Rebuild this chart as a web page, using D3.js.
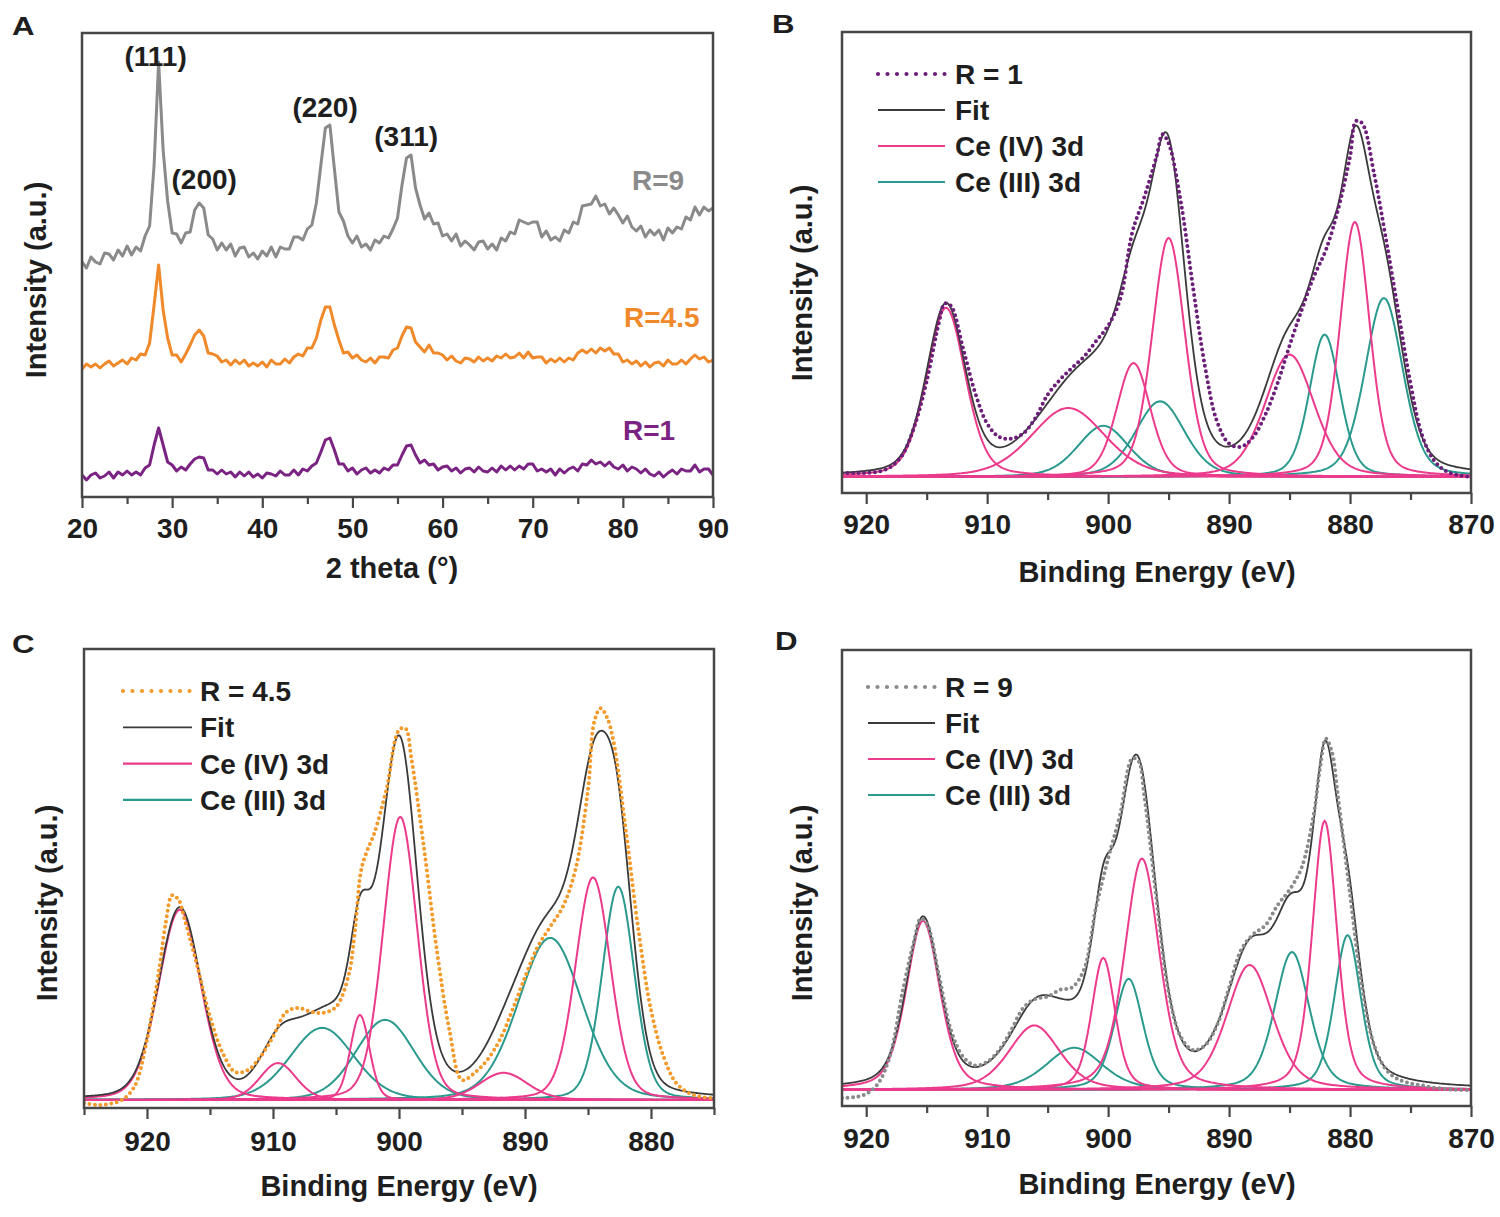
<!DOCTYPE html>
<html><head><meta charset="utf-8">
<script src="https://cdn.jsdelivr.net/npm/d3@7"></script>
<style>body{margin:0;background:#fff}</style>
</head><body>
<svg id="chart" width="1500" height="1217" xmlns="http://www.w3.org/2000/svg"></svg>
<script>
// ---------------- DATA ----------------
// Panel A : XRD, 2theta from 20 to 90 deg, sampled every 0.5 deg (intensity, a.u.)
const xrdStart = 20, xrdStep = 0.5;
const xrdR9 = [117.5,114.5,120,117.5,116.5,122,121.5,118.5,123.5,120.5,125.5,121,125,123,130.5,135.5,166,217.5,173.5,148,132,131.5,127,132,132.5,143.5,147,144.5,131,129,123.5,127,123.5,126.5,120.5,124.5,125,120,122,119,123,120.5,125,120,125,124,124,130,130,128.5,134,136,147,166,184.5,186,164,142.5,138,130.5,127,130.5,125,126.5,123.5,128.5,127,130.5,129.5,134,139.5,156,169.5,171,154.5,146,139,142,136.5,137,130.5,131.5,128,131.5,125.5,128,126,123.5,127.5,128,124,126.5,123.5,129.5,128,132.5,131.5,138.5,137.5,136.5,137.5,137.5,130,133,128.5,130,128,133.5,132,137.5,136.5,145.5,146,146.5,150.5,145.5,146.5,141.5,144.5,141,137,140.5,135,133,135.5,130,133.5,131,133.5,128.5,134.5,132,135,134,140,138.5,145,141,145,143,144.5];
const xrdR45 = [64,66.5,65,66.5,64.5,66.5,68,65.5,67,68.5,66.5,69.5,68.5,71.5,71,77,96,116,93.5,79.5,71,71,67.5,71.5,76,81,83.5,80.5,72,71.5,70.5,67.5,68.5,66,68.5,66.5,68.5,65.5,67,65.5,67.5,65,68.5,66.5,66.5,69,67,70,71.5,70.5,74.5,74.5,79.5,88.5,95,95,86,78.5,72,72.5,69.5,71,68.5,67.5,69.5,67,70,70,69.5,73.5,74.5,80.5,85,84.5,77.5,75,72.5,76,72,72,71,68.5,70.5,68,67,69.5,69,67.5,70,68,69.5,68,70.5,69.5,71.5,69.5,70,72,69.5,72.5,69.5,70,70,67,69,67.5,69.5,67.5,69.5,68.5,72,73.5,72,74,72,74.5,73,74.5,71.5,71.5,67.5,68.5,66.5,68,65.5,67.5,65,67,67.5,65.5,68.5,66.5,66.5,68.5,66.5,69,71,69,70,67.5,68.5];
const xrdR1 = [11,8.5,11,12,9.5,10.5,12.5,9.5,12.5,11,13,11,12.5,11,14.5,16,26,34.5,26,17.5,16,13,15,13.5,16.5,19,20,19.5,13.5,13.5,11.5,13.5,11.5,12.5,10,12.5,10.5,12.5,10,11.5,9.5,12,11.5,10.5,13,11,11,13.5,11,14,13,15.5,17,22.5,28.5,29.5,23.5,16.5,16.5,13,14.5,11.5,13.5,14.5,12,13.5,12,14.5,13.5,16,16,21,25.5,26,21,17,18.5,16,16.5,13.5,15,15.5,13,14.5,12,14,14.5,12.5,15,13,12.5,14.5,12.5,15.5,13.5,15.5,13.5,15.5,14,16.5,16.5,13,14,12.5,14,11,14,12,14,15,13,16.5,16,18.5,16.5,17.5,15.5,17.5,15,14,16,13,15,14,12,14,11.5,10.5,12.5,10,12,13.5,11.5,14,13,13,16,12.5,14,14,11];
const xrdNames = ["R=9", "R=4.5", "R=1"];
const peakLabels = ["(111)", "(200)", "(220)", "(311)"];
const peakPos = [28.5, 33.0, 47.3, 56.3];
const xrdTicks = [20,30,40,50,60,70,80,90];

// Panel B : XPS Ce 3d, R = 1  (binding energy eV, intensity a.u.)
const bE = [922,921,920,919,918,917,916,915,914,913.5,913,912,911,910,909,908,907,906,905,904,903,902,901,900,899,898,897,896,895.5,895,894,893,892,891,890,889,888,887,886,885,884,883,882,881,880,879.5,879,878,877,876,875,874,873,872,871,870];
const bI = [0.9,0.9,0.9,1.2,2.2,5,11.5,21.5,34.5,39,38.5,29,19,12,9,8.6,9.8,13.3,18.5,21.8,24.5,27,30.5,34,40,55,63,72,77,75,62,43,25,12.5,7.5,6.8,9,14,21,29.5,37.5,45,51,60,72,80,79.5,68,53,37,21,9,3.5,1.2,0.4,0];
const bCe4Pos = [913.4, 903.3, 897.9, 895.0, 885.0, 879.6];
const bCe4Hgt = [38, 15.5, 25.6, 53.7, 27.5, 57.3];
const bCe4Fwhm = [3.8, 7.2, 3.3, 3.2, 4.8, 2.9];
const bCe3Pos = [900.4, 895.7, 882.1, 877.2];
const bCe3Hgt = [11.5, 17, 32, 40.2];
const bCe3Fwhm = [5.0, 4.8, 3.0, 3.7];
const bMix = 0.3;

// Panel C : XPS Ce 3d, R = 4.5
const cE = [925,924,923,922,921,920,919,918.5,918,917.5,917,916,915,914,913,912,911,910,909,908,907,906,905,904,903.5,903,902.5,902,901,900,899.5,899,898,897,896,895,894,893,892,891,890,889,888,887,886,885,884.5,884,883.5,883,882,881,880,879,878,877,876,875];
const cI = [-0.7,-1.1,-0.9,0,3,13.5,30,40,46,45,40.4,30,18.7,10.6,6.3,6.7,9.7,14.2,19.6,20.7,19.8,19.6,20.9,28,38,51.7,56.2,59.6,69.7,83.1,83.5,76.4,56.2,33.7,15.7,4.5,6.1,9,13.5,20.2,27.6,34.4,38.9,43.4,51.7,69.7,85,88,86,80.9,60.7,38.2,20.2,9.7,3.8,1.6,0.7,0.4];
const cCe4Pos = [917.4, 909.6, 903.1, 899.9, 891.7, 884.6];
const cCe4Hgt = [42.7, 8.3, 19.1, 63.6, 6.1, 50];
const cCe4Fwhm = [4.0, 3.4, 1.8, 3.2, 4.5, 3.3];
const cCe3Pos = [906.1, 901.1, 888.0, 882.6];
const cCe3Hgt = [16.2, 18, 36.4, 47.9];
const cCe3Fwhm = [6.0, 5.5, 6.0, 3.0];
const cMix = 0.2;

// Panel D : XPS Ce 3d, R = 9
const dE = [922,921,920,919,918,917,916,915.5,915,914,913,912,911,910,909,908,907,906,905,904,903,902,901,900,899,898,897.5,897,896,895,894,893,892,891,890,889,888,887,886,885,884,883,882.5,882,881.5,881,880,879,878,877,876,875,874,873,872,871,870];
const dI = [-1.8,-1.6,-0.9,1.5,8,22,34,38.5,37.5,26,13.5,7.5,5.5,6.3,9,13.5,18.5,20.5,21,22.5,23,27,41,52,62,74.5,74,66,43,22,12,9,10,14.5,23,31.5,35,37,41.5,45,50,62,72,79,76,66,44,23,10,4.5,2.4,1.5,1,0.5,0.2,0,0];
const dCe4Pos = [915.3, 906.1, 900.4, 897.2, 888.3, 882.1];
const dCe4Hgt = [38, 14.5, 29.7, 52, 28.1, 60.5];
const dCe4Fwhm = [3.3, 5.0, 2.3, 3.4, 4.5, 2.4];
const dCe3Pos = [902.8, 898.3, 884.8, 880.2];
const dCe3Hgt = [9.5, 25, 31, 34.8];
const dCe3Fwhm = [5.5, 2.8, 3.4, 2.6];
const dMix = 0.4;

const legendNames = ["Fit", "Ce (IV) 3d", "Ce (III) 3d"];
const xpsTicksBD = [920,910,900,890,880,870];
const xpsTicksC = [920,910,900,890,880];

// ---------------- DRAWING ----------------
const FONT = '"Liberation Sans", Arial, Helvetica, sans-serif';
const svg = d3.select('#chart');
const FRAME = '#474747', TXT = '#1e1e1e';
const PINK = '#ec3a8c', TEAL = '#2b9a8e', FIT = '#3a3a3a';

function txt(x, y, s, size, color, anchor) {
  return svg.append('text').attr('x', x).attr('y', y).text(s)
    .attr('font-family', FONT).attr('font-weight', 'bold')
    .attr('font-size', size).attr('fill', color || TXT)
    .attr('text-anchor', anchor || 'start');
}
function frame(x0, x1, y0, y1) {
  svg.append('rect').attr('x', x0).attr('y', y0).attr('width', x1 - x0).attr('height', y1 - y0)
    .attr('fill', 'none').attr('stroke', FRAME).attr('stroke-width', 2.5);
}
function bottomAxis(scale, y, majors, minors, pad) {
  const g1 = svg.append('g').attr('transform', `translate(0,${y})`)
    .call(d3.axisBottom(scale).tickValues(minors).tickSize(7).tickFormat(''));
  const g2 = svg.append('g').attr('transform', `translate(0,${y})`)
    .call(d3.axisBottom(scale).tickValues(majors).tickSize(11).tickPadding(pad).tickFormat(d3.format('d')));
  [g1, g2].forEach(g => {
    g.select('.domain').remove();
    g.selectAll('line').attr('stroke', FRAME).attr('stroke-width', 2.2);
    g.selectAll('text').attr('font-size', 28).attr('font-family', FONT)
      .attr('font-weight', 'bold').attr('fill', TXT);
  });
}
function yTitle(x, y, s) {
  svg.append('text').attr('transform', `translate(${x},${y}) rotate(-90)`)
    .attr('text-anchor', 'middle').attr('font-family', FONT).attr('font-weight', 'bold')
    .attr('font-size', 29).attr('fill', TXT).text(s);
}
function clip(id, x0, x1, y0, y1) {
  svg.append('clipPath').attr('id', id).append('rect')
    .attr('x', x0).attr('y', y0).attr('width', x1 - x0).attr('height', y1 - y0);
}
function panelLetter(x, y, s) {
  txt(x, y, s, 25, TXT).attr('transform', `translate(${x},${y}) scale(1.25,1) translate(${-x},${-y})`);
}

// ---- Panel A ----
(function () {
  const L = 82, R = 713, T = 33, B = 497;
  const x = d3.scaleLinear().domain([20, 90]).range([L, R]);
  const y = d3.scaleLinear().domain([0, 232]).range([B, T]);
  clip('clipA', L, R, T, B);
  const series = [
    { v: xrdR9, color: '#8a8a8a', name: xrdNames[0], lx: 632, ly: 190 },
    { v: xrdR45, color: '#f0892a', name: xrdNames[1], lx: 624, ly: 327 },
    { v: xrdR1, color: '#7b2382', name: xrdNames[2], lx: 623, ly: 440 }
  ];
  const g = svg.append('g').attr('clip-path', 'url(#clipA)');
  const line = d3.line().x((d, i) => x(xrdStart + i * xrdStep)).y(d => y(d));
  series.forEach(s => {
    g.append('path').datum(s.v).attr('d', line).attr('fill', 'none')
      .attr('stroke', s.color).attr('stroke-width', 3).attr('stroke-linejoin', 'round');
    txt(s.lx, s.ly, s.name, 28, s.color);
  });
  const labelY = [66, 189, 117, 146];
  const labelDx = [-3, 5, -3, -3];
  peakLabels.forEach((p, i) => txt(x(peakPos[i]) + labelDx[i], labelY[i], p, 28, TXT, 'middle'));
  frame(L, R, T, B);
  bottomAxis(x, B, xrdTicks, [25,35,45,55,65,75,85], 10);
  txt(392, 578, '2 theta (°)', 29, TXT, 'middle');
  yTitle(46, 280, 'Intensity (a.u.)');
  panelLetter(12, 35, 'A');
})();

// ---- XPS panels ----
function pv(E, c, h, w, eta) {
  const d = (E - c) / w;
  return h * ((1 - eta) * Math.exp(-4 * Math.LN2 * d * d) + eta / (1 + 4 * d * d));
}
function xpsPanel(o) {
  const x = d3.scaleLinear().domain(o.xDom).range([o.L, o.R]);
  const y = d3.scaleLinear().domain(o.yDom).range([o.B, o.T]);
  clip(o.id, o.L, o.R, o.T, o.B);
  const g = svg.append('g').attr('clip-path', `url(#${o.id})`);
  const lo = Math.min(o.xDom[0], o.xDom[1]), hi = Math.max(o.xDom[0], o.xDom[1]);
  const grid = d3.range(lo, hi + 0.001, 0.1);
  const line = d3.line().x(d => x(d[0])).y(d => y(d[1]));
  const comps = [];
  o.ce3.pos.forEach((c, i) => comps.push({ c, h: o.ce3.hgt[i], w: o.ce3.fwhm[i], col: TEAL }));
  o.ce4.pos.forEach((c, i) => comps.push({ c, h: o.ce4.hgt[i], w: o.ce4.fwhm[i], col: PINK }));
  comps.forEach(k => {
    g.append('path').datum(grid.map(E => [E, pv(E, k.c, k.h, k.w, o.mix)])).attr('d', line)
      .attr('fill', 'none').attr('stroke', k.col).attr('stroke-width', 2);
  });
  const fit = grid.map(E => [E, d3.sum(comps, k => pv(E, k.c, k.h, k.w, o.mix))]);
  g.append('path').datum(fit).attr('d', line).attr('fill', 'none')
    .attr('stroke', FIT).attr('stroke-width', 1.8);
  const dline = d3.line().curve(d3.curveCatmullRom).x(d => x(d[0])).y(d => y(d[1]));
  g.append('path').datum(o.dataE.map((e, i) => [e, o.dataI[i]])).attr('d', dline)
    .attr('fill', 'none').attr('stroke', o.dataColor).attr('stroke-width', 4)
    .attr('stroke-dasharray', '0 5.5').attr('stroke-linecap', 'round');
  frame(o.L, o.R, o.T, o.B);
  const minors = [];
  for (let v = Math.ceil(lo / 5) * 5; v <= hi; v += 5) if (!o.ticks.includes(v)) minors.push(v);
  bottomAxis(x, o.B, o.ticks, minors, o.pad);
  // legend
  const lg = o.legend;
  const items = [
    { name: o.dataName, col: o.dataColor, dot: true },
    { name: legendNames[0], col: FIT },
    { name: legendNames[1], col: PINK },
    { name: legendNames[2], col: TEAL }
  ];
  items.forEach((it, i) => {
    const yy = lg.y + i * lg.dy;
    const l = svg.append('line').attr('x1', lg.x1).attr('x2', lg.x2).attr('y1', yy).attr('y2', yy)
      .attr('stroke', it.col);
    if (it.dot) l.attr('stroke-width', 4.2).attr('stroke-dasharray', '0 9.5').attr('stroke-linecap', 'round');
    else l.attr('stroke-width', it.col === FIT ? 1.8 : 2.2);
    txt(lg.tx, yy + 10, it.name, 28, TXT);
  });
  txt(o.xtX, o.xtY, 'Binding Energy (eV)', 29, TXT, 'middle');
  yTitle(o.ytX, o.ytY, 'Intensity (a.u.)');
  panelLetter(o.lab[0], o.lab[1], o.lab[2]);
}

xpsPanel({
  id: 'clipB', L: 842, R: 1471, T: 32, B: 493, xDom: [922, 870], yDom: [-3.6, 100], mix: bMix,
  ce4: { pos: bCe4Pos, hgt: bCe4Hgt, fwhm: bCe4Fwhm }, ce3: { pos: bCe3Pos, hgt: bCe3Hgt, fwhm: bCe3Fwhm },
  dataE: bE, dataI: bI, dataColor: '#6b1f78', dataName: 'R = 1',
  ticks: xpsTicksBD, pad: 10,
  legend: { x1: 878, x2: 945, tx: 955, y: 74, dy: 36 },
  xtX: 1157, xtY: 582, ytX: 812, ytY: 283, lab: [772, 33, 'B']
});
xpsPanel({
  id: 'clipC', L: 84, R: 714, T: 649, B: 1108, xDom: [925, 875], yDom: [-1.8, 101.3], mix: cMix,
  ce4: { pos: cCe4Pos, hgt: cCe4Hgt, fwhm: cCe4Fwhm }, ce3: { pos: cCe3Pos, hgt: cCe3Hgt, fwhm: cCe3Fwhm },
  dataE: cE, dataI: cI, dataColor: '#f39a2a', dataName: 'R = 4.5',
  ticks: xpsTicksC, pad: 12,
  legend: { x1: 123, x2: 192, tx: 200, y: 691, dy: 36.3 },
  xtX: 399, xtY: 1196, ytX: 57, ytY: 903, lab: [12, 653, 'C']
});
xpsPanel({
  id: 'clipD', L: 842, R: 1471, T: 650, B: 1106, xDom: [922, 870], yDom: [-3.6, 98.9], mix: dMix,
  ce4: { pos: dCe4Pos, hgt: dCe4Hgt, fwhm: dCe4Fwhm }, ce3: { pos: dCe3Pos, hgt: dCe3Hgt, fwhm: dCe3Fwhm },
  dataE: dE, dataI: dI, dataColor: '#8a8a8a', dataName: 'R = 9',
  ticks: xpsTicksBD, pad: 11,
  legend: { x1: 868, x2: 935, tx: 945, y: 687, dy: 36 },
  xtX: 1157, xtY: 1194, ytX: 812, ytY: 903, lab: [775, 650, 'D']
});
</script>
</body></html>
